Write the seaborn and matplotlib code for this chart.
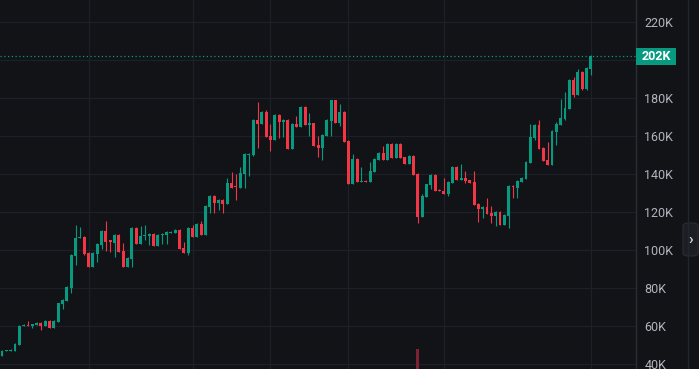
import numpy as np
import pandas as pd
import seaborn as sns
import matplotlib.pyplot as plt
from matplotlib.lines import Line2D
from matplotlib.patches import FancyBboxPatch, Rectangle

# OHLC in thousands
opens = [44.2, 46.9, 46.9, 46.9, 50.0, 60.0, 60.5, 60.0, 60.5, 61.6,
         60.0, 62.6, 59.0, 62.1, 71.6, 73.2, 80.0, 96.8, 106.3, 106.9,
         98.4, 91.0, 97.9, 102.6, 110.0, 105.3, 103.7, 107.9, 99.5, 91.0,
         95.3, 111.6, 103.2, 107.4, 107.4, 108.4, 102.1, 107.9, 107.9, 109.0,
         109.0, 110.5, 101.1, 98.4, 111.6, 106.9, 113.7, 107.9, 122.6, 128.4,
         124.7, 126.3, 124.2, 135.3, 133.7, 132.6, 140.0, 149.9, 149.9, 168.4,
         166.3, 172.6, 160.0, 157.9, 171.1, 167.4, 168.4, 153.2, 166.3, 164.7,
         175.3, 165.8, 166.8, 155.3, 153.7, 160.0, 167.9, 178.9, 166.8, 172.6,
         157.4, 134.7, 147.9, 135.8, 136.3, 135.8, 141.1, 147.4, 151.1, 147.4,
         155.8, 148.4, 155.8, 148.9, 145.3, 149.5, 140.0, 117.4, 127.9, 134.2,
         139.5, 131.6, 131.1, 129.5, 135.3, 143.7, 136.8, 137.9, 136.8, 135.8,
         124.2, 121.6, 122.6, 119.5, 117.9, 120.0, 113.2, 117.9, 133.7, 132.6,
         135.8, 137.4, 145.8, 158.9, 165.8, 153.7, 147.4, 144.7, 162.1, 165.8,
         168.9, 174.2, 189.5, 181.6, 193.7, 184.7, 195.3]
highs = [47.2, 47.6, 47.8, 50.8, 60.3, 60.8, 62.6, 61.3, 61.9, 61.9,
         62.9, 62.9, 62.9, 72.3, 74.0, 80.8, 97.7, 113.2, 112.1, 107.2,
         98.7, 98.7, 103.5, 110.3, 115.3, 105.3, 108.2, 108.2, 103.7, 96.1,
         111.9, 111.9, 112.6, 113.2, 108.7, 108.7, 108.2, 108.7, 109.8, 109.8,
         110.8, 110.8, 104.2, 111.9, 113.2, 114.0, 115.3, 123.5, 128.7, 128.7,
         126.8, 126.6, 137.9, 141.1, 140.0, 143.7, 150.8, 150.8, 168.7, 177.9,
         172.9, 173.7, 166.3, 171.4, 171.4, 168.7, 168.7, 166.6, 170.5, 175.6,
         175.6, 172.1, 167.1, 160.0, 160.8, 168.7, 179.2, 179.2, 176.8, 172.9,
         157.7, 150.5, 148.2, 143.7, 136.6, 146.3, 148.2, 151.4, 154.7, 156.1,
         156.1, 156.1, 156.1, 149.2, 149.8, 149.8, 140.3, 129.5, 135.0, 139.8,
         139.8, 131.9, 137.9, 136.1, 144.0, 144.0, 145.3, 141.6, 137.1, 141.6,
         124.5, 122.9, 127.4, 123.2, 120.3, 120.3, 118.7, 134.0, 134.2, 136.6,
         138.2, 146.6, 166.3, 166.1, 168.4, 154.0, 156.8, 162.9, 167.4, 179.5,
         183.2, 189.8, 191.0, 195.3, 194.0, 196.1, 202.4]
lows = [44.0, 46.7, 46.7, 46.6, 49.8, 59.8, 59.8, 59.0, 60.3, 57.9,
        59.8, 58.8, 58.8, 61.9, 69.0, 73.0, 77.4, 92.1, 106.1, 97.6,
        90.8, 90.8, 93.7, 100.5, 99.5, 99.0, 96.3, 98.8, 90.8, 90.8,
        91.0, 103.0, 103.0, 105.3, 102.6, 101.9, 101.9, 103.2, 103.2, 108.8,
        108.8, 100.3, 98.2, 97.4, 106.7, 106.7, 107.7, 107.7, 119.5, 119.5,
        121.1, 119.5, 124.0, 132.4, 126.3, 132.4, 132.6, 138.9, 149.7, 153.7,
        166.1, 159.3, 152.1, 157.7, 158.9, 159.5, 153.0, 153.0, 164.5, 164.5,
        165.6, 160.0, 154.5, 148.9, 147.4, 159.8, 160.0, 166.6, 165.3, 156.6,
        134.5, 134.5, 135.6, 135.6, 135.6, 135.6, 140.9, 147.2, 147.2, 147.2,
        148.2, 148.2, 148.2, 145.1, 145.1, 139.3, 114.2, 117.2, 127.7, 132.1,
        130.9, 130.9, 129.3, 128.4, 135.1, 136.6, 136.6, 135.3, 135.1, 123.5,
        114.7, 116.8, 118.7, 114.2, 112.6, 113.0, 113.0, 111.6, 127.4, 127.4,
        135.6, 137.2, 145.6, 157.9, 153.0, 146.6, 144.5, 144.5, 155.3, 165.6,
        168.4, 174.0, 180.5, 181.4, 184.2, 184.2, 192.1]
closes = [46.9, 47.4, 47.4, 50.5, 60.0, 60.5, 60.0, 61.1, 61.6, 60.0,
          62.6, 59.0, 62.6, 72.0, 73.7, 80.5, 97.4, 106.3, 106.9, 97.9,
          91.0, 98.4, 103.2, 110.0, 104.2, 104.2, 107.9, 99.0, 91.0, 95.8,
          111.6, 103.2, 107.4, 107.9, 108.4, 102.1, 107.9, 108.4, 109.5, 109.5,
          110.5, 100.5, 98.4, 111.6, 106.9, 113.7, 107.9, 123.2, 128.4, 124.7,
          126.3, 124.2, 135.3, 132.6, 133.2, 140.5, 150.5, 150.5, 168.4, 166.3,
          172.6, 159.5, 157.9, 171.1, 167.4, 168.4, 153.2, 166.3, 164.7, 175.3,
          165.8, 166.8, 154.7, 153.7, 160.5, 168.4, 178.9, 166.8, 172.6, 156.8,
          134.7, 147.9, 135.8, 136.3, 135.8, 141.6, 147.9, 151.1, 147.4, 155.8,
          148.4, 155.8, 148.4, 145.3, 149.5, 139.5, 117.4, 128.4, 134.7, 139.5,
          131.1, 131.1, 129.5, 135.8, 143.7, 136.8, 137.9, 136.3, 135.3, 123.7,
          121.6, 122.6, 118.9, 117.9, 120.0, 113.2, 118.4, 133.7, 133.2, 136.3,
          137.9, 146.3, 159.5, 165.8, 153.2, 146.8, 144.7, 162.6, 166.3, 169.5,
          174.7, 189.5, 181.6, 193.7, 184.7, 195.8, 202.1]
volumes = [30] * 96 + [100] + [30] * 40

y_ticks = [40, 60, 80, 100, 120, 140, 160, 180, 200, 220]
y_labels = ["40K", "60K", "80K", "100K", "120K", "140K", "160K", "180K", "", "220K"]
grid_x = [20, 44, 62, 80, 102, 136]
last_price = "202K"

BG = "#121317"
GRID = "#1e2027"
UP = "#089981"
DOWN = "#f23645"
TXT = "#b2b5be"

df = pd.DataFrame({"open": opens, "high": highs, "low": lows, "close": closes, "volume": volumes})
df["idx"] = np.arange(len(df))
df["color"] = np.where(df["close"] >= df["open"], UP, DOWN)

sns.set_theme(style="dark", rc={"axes.facecolor": BG, "figure.facecolor": BG})
plt.rcParams["font.family"] = ["Roboto", "DejaVu Sans"]

fig = plt.figure(figsize=(6.99, 3.69), dpi=100)
ax = fig.add_axes([0, 0, 636 / 699, 1])

# volume (only the tallest bar reaches into view)
vax = fig.add_axes([0, -0.2, 636 / 699, 0.3])
vax.bar(df["idx"], df["volume"], width=0.7, color="#7c2230", linewidth=0)
vax.set_ylim(0, 118)
vax.set_xlim(-0.46, 146.4)
vax.axis("off")
vax.patch.set_alpha(0)

# wicks
ax.vlines(df["idx"], df["low"], df["high"], colors=df["color"], linewidth=0.8, zorder=3)
# bodies
bottoms = df[["open", "close"]].min(axis=1)
heights = (df["close"] - df["open"]).abs().clip(lower=0.55)
ax.bar(df["idx"], heights, bottom=bottoms, width=0.68, color=df["color"], linewidth=0, zorder=4)

ax.set_xlim(-0.46, 146.4)
ax.set_ylim(37.37, 231.58)
ax.set_xticks(grid_x)
ax.set_xticklabels([])
ax.set_yticks(y_ticks)
ax.set_yticklabels(y_labels)
ax.yaxis.tick_right()
ax.tick_params(axis="y", length=0, pad=6, labelsize=9, labelcolor=TXT)
ax.tick_params(axis="x", length=0)
ax.grid(True, color=GRID, linewidth=0.9)
ax.set_axisbelow(True)
for s in ["top", "left", "bottom"]:
    ax.spines[s].set_visible(False)
ax.spines["right"].set_color("#2a2d35")
ax.spines["right"].set_linewidth(1)

# last price line and label
ax.axhline(df["close"].iloc[-1], color=UP, linestyle=(0, (1, 2)), linewidth=0.9, zorder=2)
fig.add_artist(Rectangle((636 / 699, 1 - 65 / 369), 40 / 699, 17 / 369, transform=fig.transFigure,
                         color=UP, linewidth=0))
fig.text(656 / 699, 1 - 56.5 / 369, last_price, color="white", fontsize=9, fontweight="bold",
         ha="center", va="center")

# right edge panel line and collapse button
fig.add_artist(Line2D([688 / 699, 688 / 699], [0, 1], transform=fig.transFigure, color="#24262d", linewidth=1))
fig.add_artist(FancyBboxPatch((683 / 699, 1 - 256 / 369), 15 / 699, 33 / 369, transform=fig.transFigure,
                              boxstyle="round,pad=0,rounding_size=0.008", facecolor="#1c1e24",
                              edgecolor="#2a2d35", linewidth=0.8))
fig.text(690.5 / 699, 1 - 240 / 369, "›", color="#d1d4dc", fontsize=11, fontweight="bold",
         ha="center", va="center")

fig.savefig("out.png", dpi=100, facecolor=BG)
